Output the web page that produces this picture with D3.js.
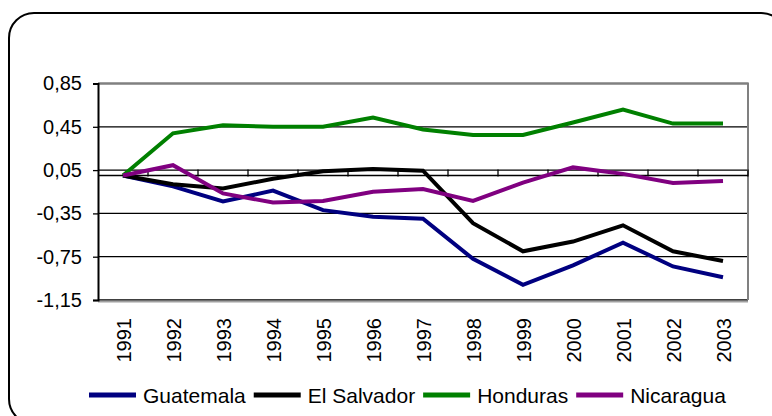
<!DOCTYPE html>
<html>
<head>
<meta charset="utf-8">
<script src="https://cdn.jsdelivr.net/npm/d3@7"></script>
<style>
  html, body { margin: 0; padding: 0; background: #fff; }
  svg { display: block; font-family: Arial, "Liberation Sans", sans-serif; }
</style>
</head>
<body>
<svg id="chart" width="772" height="416"></svg>
<script>
const years = ["1991","1992","1993","1994","1995","1996","1997","1998","1999","2000","2001","2002","2003"];
const yTicks = [0.85, 0.45, 0.05, -0.35, -0.75, -1.15];
const seriesNames = ["Guatemala", "El Salvador", "Honduras", "Nicaragua"];
const seriesColors = ["#000080", "#000000", "#008000", "#800080"];
const guatemala  = [0, -0.10, -0.24, -0.14, -0.32, -0.38, -0.40, -0.77, -1.01, -0.83, -0.62, -0.84, -0.94];
const elSalvador = [0, -0.08, -0.12, -0.03, 0.04, 0.06, 0.045, -0.44, -0.70, -0.61, -0.46, -0.70, -0.79];
const honduras   = [0, 0.39, 0.465, 0.45, 0.45, 0.535, 0.425, 0.375, 0.375, 0.49, 0.61, 0.48, 0.48];
const nicaragua  = [0, 0.095, -0.165, -0.25, -0.235, -0.15, -0.125, -0.235, -0.065, 0.075, 0.015, -0.07, -0.05];
const seriesValues = [guatemala, elSalvador, honduras, nicaragua];

(function () {
const svg = d3.select("#chart");

// outer rounded frame
svg.append("rect")
  .attr("x", 9).attr("y", 13).attr("width", 777).attr("height", 411)
  .attr("rx", 25).attr("ry", 25)
  .attr("fill", "#fff").attr("stroke", "#000").attr("stroke-width", 2);

const pL = 98, pR = 748, pT = 83.5, pB = 300;
const x = d3.scalePoint().domain(years).range([pL, pR]).padding(0.5);
const xBand = d3.scaleBand().domain(years).range([pL, pR]);
const y = d3.scaleLinear().domain([-1.15, 0.85]).range([pB, pT]);

// gridlines
svg.append("g").selectAll("line").data(yTicks).join("line")
  .attr("x1", pL).attr("x2", pR)
  .attr("y1", d => y(d)).attr("y2", d => y(d))
  .attr("stroke", "#000").attr("stroke-width", 1.3);

// plot border (gray) top, right, bottom
svg.append("path")
  .attr("d", `M${pL},${y(0.85)}H${pR}V${y(-1.15)}`)
  .attr("fill", "none").attr("stroke", "#808080").attr("stroke-width", 2);
svg.append("line")
  .attr("x1", pL).attr("x2", pR).attr("y1", y(-1.15) + 1.5).attr("y2", y(-1.15) + 1.5)
  .attr("stroke", "#a0a0a0").attr("stroke-width", 2);

// y axis
const yAxis = d3.axisLeft(y).tickValues(yTicks).tickSize(5).tickPadding(11)
  .tickFormat(d => d3.format(".2f")(d).replace(".", ",").replace("−", "-"));
const gy = svg.append("g").attr("transform", `translate(${pL},0)`).call(yAxis);
gy.select(".domain").attr("stroke", "#000").attr("stroke-width", 2);
gy.selectAll(".tick line").attr("stroke", "#000").attr("stroke-width", 1.3);
gy.selectAll(".tick text").attr("font-size", 20).attr("fill", "#000")
  .attr("font-family", "Arial, 'Liberation Sans', sans-serif");

// x axis at zero with ticks between categories
const y0 = y(0);
svg.append("line").attr("x1", pL).attr("x2", pR).attr("y1", y0).attr("y2", y0)
  .attr("stroke", "#000").attr("stroke-width", 1.6);
const boundaries = years.map(d => xBand(d)).concat([pR]).slice(1);
svg.append("g").selectAll("line").data(boundaries).join("line")
  .attr("x1", d => d).attr("x2", d => d)
  .attr("y1", y0 - 6).attr("y2", y0 + 1)
  .attr("stroke", "#000").attr("stroke-width", 1.3);

// x labels at bottom, rotated
const xAxis = d3.axisBottom(x).tickSize(0).tickPadding(0);
const gx = svg.append("g").attr("transform", `translate(0,${pB})`).call(xAxis);
gx.select(".domain").remove();
gx.selectAll(".tick text")
  .attr("font-size", 20).attr("fill", "#000")
  .attr("font-family", "Arial, 'Liberation Sans', sans-serif")
  .attr("text-anchor", "end")
  .attr("transform", "rotate(-90)")
  .attr("x", -18).attr("y", 0).attr("dy", "0.35em");

// lines
const line = d3.line().x((d, i) => x(years[i])).y(d => y(d));
svg.append("g").selectAll("path").data(seriesValues).join("path")
  .attr("d", d => line(d))
  .attr("fill", "none")
  .attr("stroke", (d, i) => seriesColors[i])
  .attr("stroke-width", 4)
  .attr("stroke-linejoin", "miter");

// legend
const lg = svg.append("g");
let lx = 89;
seriesNames.forEach((name, i) => {
  lg.append("line").attr("x1", lx).attr("x2", lx + 47).attr("y1", 395).attr("y2", 395)
    .attr("stroke", seriesColors[i]).attr("stroke-width", 5);
  const t = lg.append("text").attr("x", lx + 54).attr("y", 403)
    .attr("font-size", 21).attr("fill", "#000")
    .attr("font-family", "Arial, 'Liberation Sans', sans-serif")
    .text(name);
  lx = lx + 54 + t.node().getComputedTextLength() + 8;
});
})();
</script>
</body>
</html>
